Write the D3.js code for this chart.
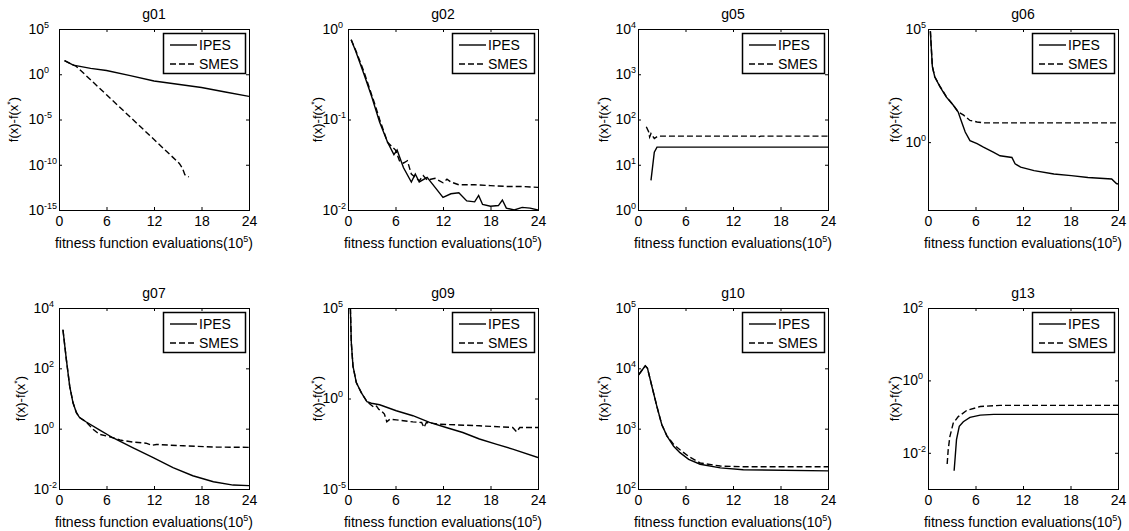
<!DOCTYPE html>
<html>
<head>
<meta charset="utf-8">
<script src="https://cdn.jsdelivr.net/npm/d3@7"></script>
<style>
  body { margin: 0; background: #fff; }
  svg text { font-family: "Liberation Sans", Arial, sans-serif; fill: #000; }
</style>
</head>
<body>
<svg id="chart" width="1129" height="531"></svg>
<script>
// x is fitness function evaluations in units of 1e5, y is f(x)-f(x*)
var xTicks = [0, 6, 12, 18, 24];
var seriesNames = ['IPES', 'SMES'];

var g01Ipes = [[0.7, 32], [1.8, 10], [4, 4.5], [6, 2.6], [9, 0.71], [12, 0.18], [15, 0.078], [18, 0.034], [21, 0.011], [24, 0.0036]];
var g01Smes = [[0.7, 32], [2.2, 7.2], [6, 5.4e-3], [10, 2.8e-6], [15.2, 1.4e-10], [15.6, 4e-11], [15.9, 8e-12], [16.4, 4.5e-12]];

var g02Ipes = [[0.4, 0.76], [1, 0.56], [2, 0.32], [3, 0.178], [4, 0.093], [5, 0.056], [5.8, 0.041], [6.2, 0.046], [7, 0.0295],
  [8, 0.0204], [8.5, 0.025], [9, 0.0204], [10, 0.0229], [11, 0.0178], [12, 0.0138], [13, 0.0151], [14, 0.0155], [15, 0.0126],
  [16, 0.0123], [16.5, 0.0145], [17, 0.0115], [18, 0.011], [19, 0.0112], [19.5, 0.0129], [20, 0.0105], [21, 0.01], [22, 0.0107],
  [23, 0.0105], [24, 0.01]];
var g02Smes = [[0.4, 0.76], [1, 0.575], [2, 0.34], [3, 0.186], [3.5, 0.138], [4, 0.1], [5, 0.056], [6, 0.046], [6.5, 0.035],
  [7, 0.033], [7.5, 0.035], [8, 0.025], [9, 0.021], [9.5, 0.024], [10, 0.0214], [11, 0.0224], [12, 0.02], [12.5, 0.0219],
  [13, 0.0204], [14, 0.019], [16, 0.019], [18, 0.0186], [20, 0.0182], [22, 0.0182], [24, 0.0178]];

var g05Ipes = [[1.64, 4.5], [2.06, 19], [2.4, 24.5], [24, 24.5]];
var g05Smes = [[1.05, 69], [1.34, 54], [1.47, 41], [1.64, 49], [2.06, 38], [2.5, 43], [15, 43], [15.2, 41], [15.5, 43], [24, 43]];

var g06Ipes = [[0.3, 7.9e4], [0.55, 2200], [0.85, 776], [1.5, 282], [2.3, 100], [3.2, 42.7], [3.8, 21.9], [4.25, 7.8], [4.7, 2.8],
  [5.3, 1.17], [6.2, 0.85], [7, 0.6], [8.3, 0.355], [9.1, 0.25], [10.6, 0.21], [11, 0.11], [11.7, 0.078], [13.4, 0.055],
  [15.9, 0.039], [18.1, 0.033], [20.2, 0.0275], [23.2, 0.0234], [23.8, 0.0148], [24, 0.0141]];
var g06Smes = [[0.3, 7.9e4], [0.55, 2200], [0.85, 776], [1.5, 300], [2.3, 105], [3.2, 42.7], [3.8, 21.9], [4.5, 15.5], [5.3, 9.1],
  [6.2, 7.8], [7, 7.1], [24, 7.1]];

var g07Ipes = [[0.5, 1900], [0.93, 195], [1.35, 25.7], [1.77, 7.2], [2.2, 3.4], [2.6, 2.34], [3.45, 1.66], [5.1, 0.91], [6.8, 0.5],
  [9.3, 0.234], [11.9, 0.11], [14.4, 0.051], [16.9, 0.0275], [19.5, 0.0174], [22, 0.0135], [24, 0.0129]];
var g07Smes = [[0.5, 1900], [0.93, 195], [1.35, 25.7], [1.77, 7.2], [2.2, 3.4], [2.6, 2.34], [3.45, 1.66], [4.3, 0.95], [5.1, 0.65],
  [6.4, 0.54], [7.7, 0.42], [9.3, 0.36], [11, 0.33], [11.7, 0.28], [12.3, 0.3], [15.7, 0.27], [19.9, 0.245], [24, 0.24]];

var g09Ipes = [[0.3, 1e5], [0.42, 1200], [0.63, 62], [1.05, 7.6], [1.68, 2.1], [2.4, 0.66], [2.95, 0.55], [4, 0.45], [6.1, 0.21],
  [8.2, 0.112], [10.3, 0.048], [12.4, 0.025], [14.5, 0.0132], [16.6, 0.0058], [18.7, 0.003], [20.8, 0.0016], [24, 0.00055]];
var g09Smes = [[0.3, 1e5], [0.42, 1200], [0.63, 62], [1.05, 7.6], [1.68, 2.1], [2.4, 0.66], [3.3, 0.32], [3.6, 0.38], [3.9, 0.25],
  [4.2, 0.21], [4.6, 0.138], [4.9, 0.052], [5.3, 0.072], [6.1, 0.066], [8.2, 0.051], [9.3, 0.047], [9.6, 0.025], [9.9, 0.047],
  [11.6, 0.038], [16.6, 0.031], [20.8, 0.025], [21.3, 0.0145], [21.7, 0.025], [24, 0.025]];

var g10Ipes = [[0.08, 7800], [0.5, 9300], [0.92, 11000], [1.2, 10000], [1.76, 5000], [2.4, 2300], [3, 1170], [3.65, 760],
  [4.5, 510], [5.3, 400], [6.4, 310], [7.85, 257], [10.4, 224], [13.3, 209], [24, 200]];
var g10Smes = [[0.08, 7800], [0.5, 9300], [0.92, 11000], [1.2, 10000], [1.76, 5000], [2.4, 2300], [3, 1170], [3.65, 760],
  [4.5, 550], [5.3, 447], [6.4, 347], [7.85, 270], [10.4, 240], [13.3, 234], [24, 234]];

var g13Ipes = [[3.3, 0.0032], [3.44, 0.0079], [3.6, 0.023], [3.95, 0.054], [4.46, 0.072], [5.3, 0.095], [6.6, 0.11], [8.3, 0.115], [24, 0.115]];
var g13Smes = [[2.42, 0.0049], [2.55, 0.012], [2.76, 0.028], [3.19, 0.066], [3.82, 0.1], [4.9, 0.148], [6.6, 0.19], [9.1, 0.204], [24, 0.204]];

// y ranges and decade tick labels (exponents of 10)
var g01Range = [1e-15, 1e5], g01Exp = [5, 0, -5, -10, -15];
var g02Range = [1e-2, 1], g02Exp = [0, -1, -2];
var g05Range = [1, 1e4], g05Exp = [4, 3, 2, 1, 0];
var g06Range = [1e-3, 1e5], g06Exp = [5, 0];
var g07Range = [1e-2, 1e4], g07Exp = [4, 2, 0, -2];
var g09Range = [1e-5, 1e5], g09Exp = [5, 0, -5];
var g10Range = [1e2, 1e5], g10Exp = [5, 4, 3, 2];
var g13Range = [1e-3, 1e2], g13Exp = [2, 0, -2];

var panels = [
  { title: 'g01', ipes: g01Ipes, smes: g01Smes, range: g01Range, exps: g01Exp },
  { title: 'g02', ipes: g02Ipes, smes: g02Smes, range: g02Range, exps: g02Exp },
  { title: 'g05', ipes: g05Ipes, smes: g05Smes, range: g05Range, exps: g05Exp },
  { title: 'g06', ipes: g06Ipes, smes: g06Smes, range: g06Range, exps: g06Exp },
  { title: 'g07', ipes: g07Ipes, smes: g07Smes, range: g07Range, exps: g07Exp },
  { title: 'g09', ipes: g09Ipes, smes: g09Smes, range: g09Range, exps: g09Exp },
  { title: 'g10', ipes: g10Ipes, smes: g10Smes, range: g10Range, exps: g10Exp },
  { title: 'g13', ipes: g13Ipes, smes: g13Smes, range: g13Range, exps: g13Exp }
];

// layout
var colX = [59, 348, 638, 928],
  rowY = [29, 308],
  boxW = 190,
  boxH = 181;
var ylabelOffset = [46, 31, 35, 34, 39, 31, 35, 34];
var dashes = [null, '6,3'];

var svg = d3.select('#chart');

panels.forEach(function (p, i) {
  var x0 = colX[i % 4],
    y0 = rowY[Math.floor(i / 4)];

  var g = svg.append('g').attr('transform', 'translate(' + x0 + ',' + y0 + ')');

  var xScale = d3.scaleLinear().domain([0, 24]).range([0, boxW]);
  var yScale = d3.scaleLog().domain(p.range).range([boxH, 0]);
  var yVals = p.exps.map(function (e) { return Math.pow(10, e); });

  g.append('rect')
    .attr('width', boxW)
    .attr('height', boxH)
    .attr('fill', '#fff');

  g.append('clipPath')
    .attr('id', 'clip' + i)
    .append('rect')
    .attr('width', boxW)
    .attr('height', boxH);

  var line = d3.line()
    .x(function (d) { return xScale(d[0]); })
    .y(function (d) { return yScale(d[1]); });

  [p.ipes, p.smes].forEach(function (s, k) {
    g.append('path')
      .datum(s)
      .attr('clip-path', 'url(#clip' + i + ')')
      .attr('d', line)
      .attr('fill', 'none')
      .attr('stroke', '#000')
      .attr('stroke-width', 1.4)
      .attr('stroke-dasharray', dashes[k]);
  });

  // axes, ticks pointing inward
  var xAxis = g.append('g')
    .attr('transform', 'translate(0,' + boxH + ')')
    .call(d3.axisBottom(xScale).tickValues(xTicks).tickSizeInner(-3).tickSizeOuter(0).tickPadding(6));
  xAxis.selectAll('text').attr('font-size', 14);

  g.append('g')
    .call(d3.axisTop(xScale).tickValues(xTicks).tickSizeInner(-3).tickSizeOuter(0).tickFormat(''));

  var yAxis = g.append('g')
    .call(d3.axisLeft(yScale).tickValues(yVals).tickSizeInner(-3).tickSizeOuter(0).tickFormat(''));

  g.append('g')
    .attr('transform', 'translate(' + boxW + ',0)')
    .call(d3.axisRight(yScale).tickValues(yVals).tickSizeInner(-3).tickSizeOuter(0).tickFormat(''));

  g.selectAll('.domain').remove();
  g.selectAll('.tick line').attr('stroke', '#000');

  var maxW = 0;
  yAxis.selectAll('.tick text').each(function (d, j) {
    var t = d3.select(this)
      .attr('text-anchor', 'start')
      .attr('font-size', 14);
    t.append('tspan').text('10');
    t.append('tspan').attr('dy', -6).attr('font-size', 9).text(p.exps[j]);
    maxW = Math.max(maxW, this.getComputedTextLength());
  });
  yAxis.selectAll('.tick text').attr('x', -(maxW + 2));

  g.append('rect')
    .attr('x', 0.5)
    .attr('y', 0.5)
    .attr('width', boxW)
    .attr('height', boxH)
    .attr('fill', 'none')
    .attr('stroke', '#000')
    .attr('stroke-width', 1);

  // title
  g.append('text')
    .attr('x', boxW / 2)
    .attr('y', -10)
    .attr('text-anchor', 'middle')
    .attr('font-size', 14)
    .text(p.title);

  // x label
  var xl = g.append('text')
    .attr('x', boxW / 2)
    .attr('y', boxH + 38)
    .attr('text-anchor', 'middle')
    .attr('font-size', 14);
  xl.append('tspan').text('fitness function evaluations(10');
  xl.append('tspan').attr('dy', -6).attr('font-size', 9).text('5');
  xl.append('tspan').attr('dy', 6).text(')');

  // y label
  var yl = g.append('text')
    .attr('transform', 'translate(' + (-ylabelOffset[i] + 5) + ',' + boxH / 2 + ') rotate(-90)')
    .attr('text-anchor', 'middle')
    .attr('font-size', 13);
  yl.append('tspan').text('f(x)-f(x');
  yl.append('tspan').attr('dy', -5).attr('font-size', 9).text('*');
  yl.append('tspan').attr('dy', 5).text(')');

  // legend
  var lw = 82, lh = 40;
  var leg = g.append('g')
    .attr('transform', 'translate(' + (boxW - 4 - lw) + ',4)');
  leg.append('rect')
    .attr('x', 0.5)
    .attr('y', 0.5)
    .attr('width', lw)
    .attr('height', lh)
    .attr('fill', '#fff')
    .attr('stroke', '#000')
    .attr('stroke-width', 1.5);
  seriesNames.forEach(function (name, k) {
    var ly = 12 + k * 19;
    leg.append('line')
      .attr('x1', 7)
      .attr('x2', 34)
      .attr('y1', ly)
      .attr('y2', ly)
      .attr('stroke', '#000')
      .attr('stroke-width', 1.4)
      .attr('stroke-dasharray', dashes[k]);
    leg.append('text')
      .attr('x', 36)
      .attr('y', ly + 5)
      .attr('font-size', 14)
      .text(name);
  });
});
</script>
</body>
</html>
